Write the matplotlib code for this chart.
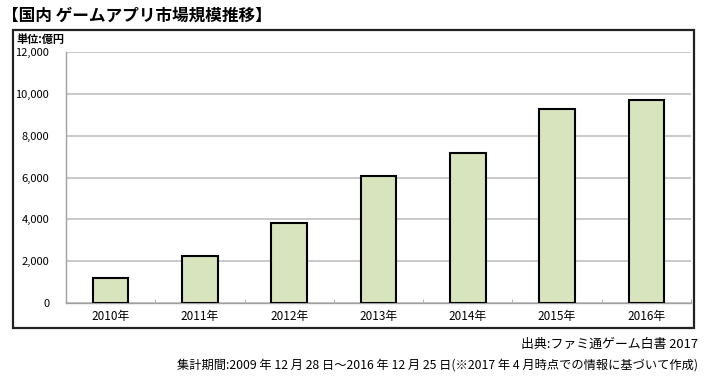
import matplotlib
matplotlib.use("Agg")
import matplotlib.pyplot as plt
from matplotlib.patches import Rectangle
import numpy as np

plt.rcParams['font.family'] = ['Noto Sans CJK JP', 'DejaVu Sans']

# data
years = ['2010年', '2011年', '2012年', '2013年', '2014年', '2015年', '2016年']
market = [1190, 2250, 3840, 6050, 7150, 9270, 9700]
yticks = [0, 2000, 4000, 6000, 8000, 10000, 12000]

title = '【国内 ゲームアプリ市場規模推移】'
unit = '単位:億円'
source = '出典:ファミ通ゲーム白書 2017'
period = '集計期間:2009 年 12 月 28 日～2016 年 12 月 25 日(※2017 年 4 月時点での情報に基づいて作成)'

fig = plt.figure(figsize=(7.08, 3.79), dpi=100)
ax = fig.add_axes([0.0932, 0.2005, 0.8828, 0.6623])

x = np.arange(len(years))
ax.bar(x, market, width=0.4, color='#d7e4bd', edgecolor='black', linewidth=1.5, zorder=3)

ax.set_xlim(-0.5, len(years) - 0.5)
ax.set_ylim(0, 12000)
ax.set_yticks(yticks)
ax.set_yticklabels(['{:,}'.format(v) for v in yticks], fontsize=8)
ax.set_xticks(x)
ax.set_xticklabels(years, fontsize=8.5)
ax.set_xticks(np.arange(-0.5, len(years)), minor=True)
ax.tick_params(axis='x', which='major', length=0, pad=5)
ax.tick_params(axis='x', which='minor', length=3, direction='in', color='#a0a0a0')
ax.tick_params(axis='y', length=0, pad=12)
ax.grid(axis='y', color='#c0c0c0', linewidth=1.2, zorder=0)
ax.set_axisbelow(True)
for s in ['top', 'right']:
    ax.spines[s].set_visible(False)
for s in ['left', 'bottom']:
    ax.spines[s].set_color('#a0a0a0')
    ax.spines[s].set_linewidth(1.0)

# outer frame
fig.patches.append(Rectangle((0.0184, 0.1346), 0.9619, 0.7863, transform=fig.transFigure,
                             fill=False, edgecolor='#222222', linewidth=1.6))

fig.text(0.003, 0.958, title, fontsize=12, fontweight='bold', va='center', ha='left')
fig.text(0.023, 0.896, unit, fontsize=8, fontweight='bold', va='center', ha='left')
fig.text(0.986, 0.092, source, fontsize=9.3, va='center', ha='right')
fig.text(0.986, 0.037, period, fontsize=8.8, va='center', ha='right')

fig.savefig('out.png', dpi=100)
